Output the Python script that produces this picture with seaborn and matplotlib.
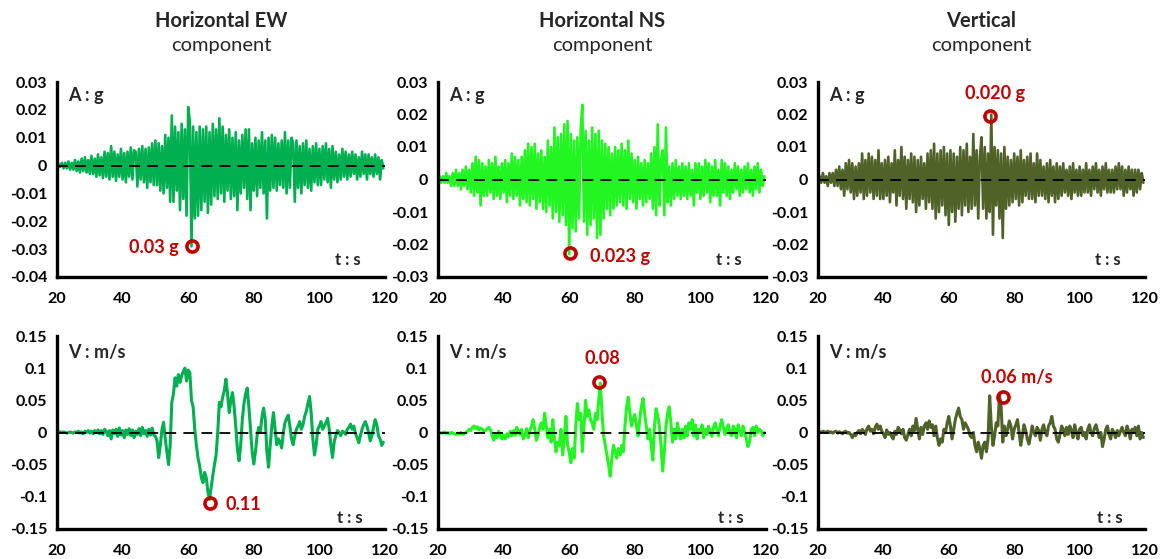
import numpy as np
import pandas as pd
import matplotlib
matplotlib.use("Agg")
import matplotlib.pyplot as plt
import seaborn as sns
from matplotlib.ticker import MultipleLocator, FuncFormatter

# ---------------- data (sampled every 0.5 s from t = 20 s) ----------------
T_START = 20.0
T_STEP = 0.5

# Accelerations in milli-g
ew_acc_mg = [
    0, 0.5, -0.5, 1, -1, 1, -1, 1.5, -1.5, 1,
    -1.5, 2, -2, 1.5, -2.5, 2.5, -2, 3, -2.5, 2,
    -3, 3.5, -3, 2.5, -4, 4, -3.5, 3, -4.5, 5,
    -4, 4.5, -5, 7, -4, 5, -5.5, 4, -4, 6,
    -5, 4.5, -6, 5, -4, 6.5, -5, 5.5, 5, -7.5,
    6, -5, 7, -6, 6, -8, 6.5, -6, 8, -7,
    9, -7, 8, -9, 7, -10, 11, -8, 10, -13,
    18, -13, 14, -9, 12, -16, 15, -12, 13, -18,
    21, 16, -29, 14, -19, 12, -18, 14, -16, 13,
    -13, 14, -17, 12, -14, 15, -11, 13, -12, 17,
    -10, 14, -13, 11, -9, 13, -12, 10, -11, 12,
    -16, 9, -10, 11, -8, 13, -12, 13, -16, 8,
    -9, 10, -11, 9, -8, 12, -10, 9, -19, 10,
    -9, 11, -8, 10, -9, 8, -7, 9, -8, 12,
    -10, 9, -8, 10, 8, -13, 9, -8, 7, -10,
    8, -7, 9, -8, 6, -9, 7, -6, 8, -7,
    6, -7, 7, -5, 8, -6, 6, -8, 7, -5,
    5, -6, 4, -5, 6, -4, 5, -5, 4, -4,
    5, -3, 4, -5, 3, -4, 5, -3, 4, -5,
    4, -3, 3, -4, 4, -3, 3, -5, 2, -1,
]
ns_acc_mg = [
    0, 1, -1, 1, -1, 2, -1, 1, -2, 2,
    -2, 3, -2, 2, -3, 3, -2, 4, -3, 3,
    -4, 5, -5, 7, -4, 6, -8, 5, -5, 4,
    -5, 6, -4, 5, -6, 7, -5, 4, -6, 5,
    -4, 6, -7, 5, -5, 8, -6, 7, -5, 6,
    -8, 7, -6, 9, -7, 11, -8, 10, -6, 11,
    -9, 8, -7, 9, -9, 7, -10, 12, -8, 10,
    -12, 16, -10, 13, -13, 14, -11, 17, -14, 18,
    -23, 14, -15, 12, -16, 13, -12, 15, 23, -13,
    15, -17, 12, -14, 16, -12, 14, -18, 15, -17,
    12, -12, 11, -9, 10, -11, 8, -9, 10, -8,
    9, -7, 11, -8, 9, -9, 12, -6, 8, -7,
    6, -9, 7, -6, 5, -8, 6, -7, 5, -6,
    8, -9, 10, -11, 17, -8, 6, 9, -11, 16,
    -7, 4, -8, 5, -6, 6, -5, 4, -6, 5,
    -5, 4, -6, 5, -5, 3, -8, 5, -4, 5,
    -6, 4, -5, 6, -4, 5, -7, 4, -5, 6,
    -5, 3, -8, 6, -4, 5, -5, 4, -6, 3,
    -4, 5, -3, 4, -5, 3, -4, 4, -3, 5,
    -4, 3, -5, 4, -3, 5, -4, 3, -2, 1,
]
vt_acc_mg = [
    0, 1, -1, 2, -1, 1, -2, 2, -1, 2,
    -2, 3, -2, 4, -3, 3, -5, 5, -3, 6,
    -4, 5, -6, 4, -5, 5, -4, 8, -6, 6,
    -5, 8, -4, 7, -6, 6, -5, 9, -6, 5,
    -6, 6, -5, 7, -7, 5, -4, 9, -8, 6,
    -5, 10, -6, 7, -9, 6, -6, 8, -7, 7,
    -10, 6, -8, 7, -6, 5, -9, 8, -7, 9,
    -9, 11, -12, 8, -10, 9, -8, 10, -11, 8,
    -14, 9, -10, 8, -13, 7, -9, 10, -11, 9,
    -8, 11, -10, 7, -9, 14, -8, 9, -12, 7,
    13, -9, 10, -12, 8, -10, 20, -17, 10, -8,
    9, -12, 8, -18, 10, -9, 7, -8, 6, -7,
    8, -6, 7, -8, 9, -7, 6, -5, 7, -6,
    8, -6, 5, -7, 8, -5, 6, -5, 4, -6,
    5, -7, 6, -5, 4, -7, 5, -6, 4, -5,
    5, -4, 3, -5, 4, -6, 5, -4, 3, -5,
    4, -5, 3, -4, 5, -4, 3, -5, 4, -3,
    5, -4, 3, -5, 4, -3, 5, -4, 3, -4,
    3, -4, 4, -3, 5, -3, 4, -5, 3, -4,
    4, -3, 3, -5, 3, -4, 3, -3, 2, -1,
]

# Velocities in mm/s
ew_vel_mms = [
    0, 0, 1, 0, 1, 0, -1, 0, 1, 0,
    -1, 1, 0, 2, -1, 1, -2, 2, 0, 3,
    -1, 2, -2, 3, 0, 4, -2, 3, -3, 5,
    2, -5, 3, -10, 4, -2, 5, -6, 7, -4,
    3, -8, 4, -3, 6, -5, 4, -8, 2, -3,
    6, -5, 8, -2, 3, -6, 5, -4, 7, -4,
    -6, -13, -39, -20, 5, 16, -10, -30, -50, -20,
    47, 60, 85, 72, 90, 78, 88, 95, 100, 80,
    97, 93, 50, 40, 5, -20, -40, -52, -70, -78,
    -62, -70, -92, -104, -85, -67, -50, -35, 0, 47,
    40, 55, 65, 83, 60, 31, 50, 62, 40, 10,
    -26, -44, -20, 20, 45, 60, 69, 40, 5, -30,
    -49, -30, -5, 8, 0, 25, 38, 20, -30, -54,
    -20, 10, 31, 5, -19, -10, -15, -24, 0, 15,
    22, 27, 10, -10, -19, -5, 5, 10, 17, 5,
    12, 25, 33, 45, 56, 30, -10, -35, -20, 5,
    10, 17, 5, 10, 15, 22, 5, -20, -39, -15,
    -5, 3, 0, -5, 2, 0, -3, 5, 8, 13,
    5, 10, -2, -8, -16, -5, 5, 12, 17, 10,
    0, -13, -5, 8, 20, 12, -5, -10, -20, -15,
]
ns_vel_mms = [
    0, 0, -1, 0, 1, -1, 0, -2, 0, -1,
    -2, -3, -1, -2, 0, -3, -2, 0, 2, 5,
    3, 8, 10, 6, 9, 4, 7, 5, 1, 3,
    6, 8, 4, -5, -12, -3, -8, 2, -6, -10,
    -4, -10, -2, -7, 2, -5, 3, -4, 8, 2,
    -3, 5, -10, -4, 6, -8, 3, 10, 20, 5,
    -12, -5, 8, 15, 5, 30, 10, -8, 5, -15,
    20, -10, -30, -15, -20, 5, -35, -10, 25, -20,
    -30, -47, -25, -40, 10, 45, 20, 30, -30, 10,
    50, 25, 35, 20, 15, 5, 30, 20, 50, 77,
    30, -5, -20, -35, -50, -68, -40, -20, -30, -40,
    -25, -35, -20, -30, 10, 40, 55, 30, 10, 20,
    28, 10, -5, 20, 40, 53, 30, 10, -10, 5,
    -20, -43, 10, 37, 25, 10, -20, -60, -30, 10,
    30, 40, 15, -15, 5, -10, 15, 0, -10, 5,
    -8, 10, -5, 15, 5, 20, -5, 12, -10, 5,
    0, 12, -8, 5, -3, 10, 2, -6, 8, 15,
    5, -5, 10, 20, 8, -3, 5, 12, 0, -5,
    10, 5, -8, 12, 3, -5, 10, 0, -10, -22,
    -15, 5, 8, -5, 10, 0, 5, 3, -5, 0,
]
vt_vel_mms = [
    0, 1, 0, 2, 1, 0, 2, 0, 1, -1,
    1, 2, -1, 1, 0, -2, 1, 2, -1, 0,
    -3, -8, -2, -5, 0, 3, -2, 5, 2, -3,
    6, 10, 2, 5, -2, 8, 13, 5, 10, 2,
    -2, -8, 4, -3, 0, -6, -10, 2, -3, 8,
    4, -2, 5, -8, -12, -3, 5, -5, 10, 3,
    22, 5, -10, 8, -3, 10, 15, 5, 18, 8,
    12, -5, 10, -8, -20, -10, -15, 5, 0, 15,
    25, 10, -10, 5, 20, 30, 38, 25, 20, 5,
    15, 10, 5, -5, -8, 0, -20, -30, -15, -25,
    -40, -20, -15, -30, -10, 57, 10, -20, -5, 15,
    10, 58, 40, -15, 10, -5, 5, 18, 10, -10,
    5, 12, 20, 0, -20, -5, 12, 3, -10, -18,
    -5, 10, 0, -5, 8, 3, -12, 5, 12, 0,
    -5, 10, 15, 25, 10, 5, -10, -15, -3, 10,
    5, -5, 8, -3, 10, 3, -8, 12, 0, -10,
    5, 8, -5, 0, -10, 5, 12, 0, -5, 6,
    12, 3, -8, 0, -22, -10, 5, 10, -3, -10,
    5, 0, -8, 3, -5, 2, 8, 0, -5, 10,
    2, -10, 5, 0, 8, -5, 10, -10, 0, -8,
]

# Peak markers (t in s, value) and their labels
acc_peak_t = [61.2, 60.2, 72.6]
acc_peak_v = [-0.0287, -0.0227, 0.0195]
acc_peak_txt = ["0.03 g", "0.023 g", "0.020 g"]
acc_txt_t = [57.0, 66.3, 74.1]
acc_txt_v = [-0.0295, -0.0237, 0.0265]
acc_txt_ha = ["right", "left", "center"]

vel_peak_t = [66.6, 69.2, 76.5]
vel_peak_v = [-0.109, 0.079, 0.0547]
vel_peak_txt = ["0.11", "0.08", "0.06 m/s"]
vel_txt_t = [71.5, 70.2, 80.9]
vel_txt_v = [-0.1126, 0.1157, 0.086]
vel_txt_ha = ["left", "center", "center"]

titles = ["Horizontal EW", "Horizontal NS", "Vertical"]
colors = ["#00B050", "#22F522", "#4F6228"]
acc_ylims = [(-0.04, 0.03), (-0.03, 0.03), (-0.03, 0.03)]
vel_ylim = (-0.15, 0.15)

# ---------------- style ----------------
sns.set_style("white")
plt.rcParams['font.family'] = ['Lato', 'DejaVu Sans']
RED = "#C00000"

fig = plt.figure(figsize=(11.6, 5.59), dpi=100)
W, H = 1160.0, 559.0
col_px = [(57, 385), (438, 766), (818, 1145)]
top_px = (82, 277)
bot_px = (336, 529)


def make_ax(xpx, ypx):
    l = xpx[0] / W
    w = (xpx[1] - xpx[0]) / W
    b = 1 - ypx[1] / H
    h = (ypx[1] - ypx[0]) / H
    return fig.add_axes([l, b, w, h])


def fmt(v, pos):
    v = round(v, 4)
    if abs(v) < 1e-9:
        return "0"
    return f"{v:g}"


def style_ax(ax, ylim, ystep):
    ax.set_xlim(20, 120)
    ax.set_ylim(*ylim)
    ax.xaxis.set_major_locator(MultipleLocator(20))
    ax.xaxis.set_minor_locator(MultipleLocator(2))
    ax.yaxis.set_major_locator(MultipleLocator(ystep))
    ax.yaxis.set_major_formatter(FuncFormatter(fmt))
    for s in ["top", "right"]:
        ax.spines[s].set_visible(False)
    for s in ["left", "bottom"]:
        ax.spines[s].set_linewidth(2.4)
        ax.spines[s].set_color("black")
    ax.tick_params(axis="both", which="major", direction="out", length=4,
                   width=1.3, labelsize=11.5, pad=3, colors="black")
    ax.tick_params(axis="x", which="minor", direction="out", length=3.5, width=1.3)
    ax.tick_params(axis="x", which="major", pad=7)
    for lab in ax.get_xticklabels() + ax.get_yticklabels():
        lab.set_fontweight("bold")
    ax.set_xlabel("")
    ax.set_ylabel("")
    ax.axhline(0, color="black", lw=1.3, ls=(0, (6, 4)), zorder=5)


acc_sets = [ew_acc_mg, ns_acc_mg, vt_acc_mg]
vel_sets = [ew_vel_mms, ns_vel_mms, vt_vel_mms]

for i in range(3):
    # --- acceleration ---
    ax = make_ax(col_px[i], top_px)
    a = np.array(acc_sets[i], dtype=float) / 1000.0
    t = T_START + T_STEP * np.arange(len(a))
    df = pd.DataFrame({"t": t, "a": a})
    sns.lineplot(data=df, x="t", y="a", ax=ax, color=colors[i], lw=1.9,
                 estimator=None, sort=False)
    style_ax(ax, acc_ylims[i], 0.01)
    ax.text(0.034, 0.933, "A : g", transform=ax.transAxes, fontsize=13,
            fontweight="bold", va="center", ha="left")
    ax.text(0.925, 0.087, "t : s", transform=ax.transAxes, fontsize=12,
            fontweight="bold", va="center", ha="right")
    ax.plot([acc_peak_t[i]], [acc_peak_v[i]], marker="o", ms=8, mfc="none",
            mec=RED, mew=2.6, zorder=6)
    ax.text(acc_txt_t[i], acc_txt_v[i], acc_peak_txt[i], color=RED,
            fontsize=13, fontweight="bold", ha=acc_txt_ha[i], va="center", zorder=7)

    # --- velocity ---
    ax2 = make_ax(col_px[i], bot_px)
    v = np.array(vel_sets[i], dtype=float) / 1000.0
    tv = T_START + T_STEP * np.arange(len(v))
    dfv = pd.DataFrame({"t": tv, "v": v})
    sns.lineplot(data=dfv, x="t", y="v", ax=ax2, color=colors[i], lw=2.2,
                 estimator=None, sort=False)
    style_ax(ax2, vel_ylim, 0.05)
    ax2.text(0.034, 0.912, "V : m/s", transform=ax2.transAxes, fontsize=13,
             fontweight="bold", va="center", ha="left")
    ax2.text(0.933, 0.057, "t : s", transform=ax2.transAxes, fontsize=12,
             fontweight="bold", va="center", ha="right")
    ax2.plot([vel_peak_t[i]], [vel_peak_v[i]], marker="o", ms=8, mfc="none",
             mec=RED, mew=2.6, zorder=6)
    ax2.text(vel_txt_t[i], vel_txt_v[i], vel_peak_txt[i], color=RED,
             fontsize=13, fontweight="bold", ha=vel_txt_ha[i], va="center", zorder=7)

    # --- column title ---
    xc = (col_px[i][0] + col_px[i][1]) / 2.0 / W
    fig.text(xc, 1 - 21 / H, titles[i], ha="center", va="center",
             fontsize=14.5, fontweight="bold")
    fig.text(xc, 1 - 46 / H, "component", ha="center", va="center",
             fontsize=14.5)

fig.savefig("out.png", dpi=100)
